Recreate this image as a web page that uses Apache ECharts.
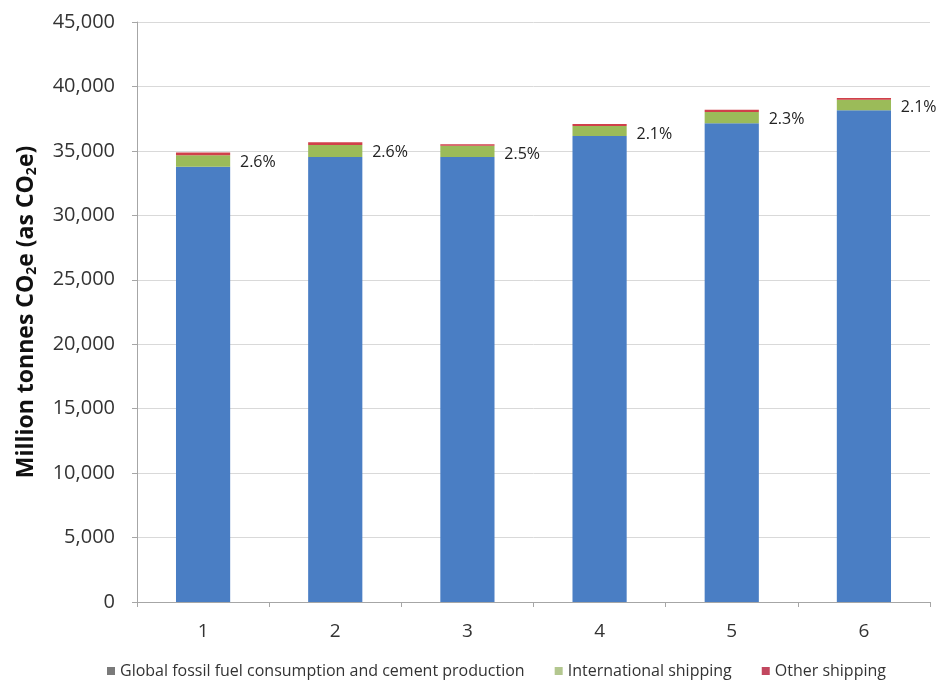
<!DOCTYPE html>
<html><head><meta charset="utf-8">
<script src="https://cdn.jsdelivr.net/npm/echarts@6/dist/echarts.min.js"></script>
<style>html,body{margin:0;padding:0;background:#fff}#c{width:943px;height:688px}</style>
</head><body><div id="c"></div>
<script>
const categories = ['1','2','3','4','5','6'];
const fossil = [33760, 34520, 34521, 36150, 37151, 38152];
const intlShipping = [903, 940, 873, 790, 871, 816];
const otherShipping = [218, 217, 125, 145, 174, 145];
const shareLabels = ['2.6%','2.6%','2.5%','2.1%','2.3%','2.1%'];
const yTicks = [0, 5000, 10000, 15000, 20000, 25000, 30000, 35000, 40000, 45000];

const font = '"Open Sans", "Liberation Sans", sans-serif';
const chart = echarts.init(document.getElementById('c'));
chart.setOption({
  animation: false,
  textStyle: {fontFamily: font},
  grid: {left: 137, right: 13, top: 22, bottom: 86},
  legend: {
    bottom: 4, left: 102, itemWidth: 8, itemHeight: 8, itemGap: 30,
    textStyle: {fontSize: 16, color: '#333', fontFamily: font},
    data: [
      {name: 'Global fossil fuel consumption and cement production', icon: 'rect', itemStyle: {color: '#7a7a7a'}},
      {name: 'International shipping', icon: 'rect', itemStyle: {color: '#b3c78f'}},
      {name: 'Other shipping', icon: 'rect', itemStyle: {color: '#c2475f'}}
    ]
  },
  xAxis: {
    type: 'category', data: categories,
    axisLine: {lineStyle: {color: '#a6a6a6'}},
    axisTick: {show: true, length: 5, lineStyle: {color: '#a6a6a6'}},
    axisLabel: {fontSize: 19, color: '#333', margin: 20, fontFamily: font}
  },
  yAxis: {
    type: 'value', min: yTicks[0], max: yTicks[yTicks.length-1], interval: 5000,
    name: '{b|Million tonnes CO}{s|2}{b|e (as CO}{s|2}{b|e)}',
    nameLocation: 'middle', nameRotate: 90, nameGap: 98,
    nameTextStyle: {
      rich: {
        b: {fontSize: 23, fontWeight: 'bold', color: '#111', fontFamily: font},
        s: {fontSize: 14, fontWeight: 'bold', color: '#111', fontFamily: font, padding: [12,0,0,0]}
      }
    },
    axisLine: {show: true, lineStyle: {color: '#a6a6a6'}},
    axisTick: {show: true, length: 5, lineStyle: {color: '#a6a6a6'}},
    splitLine: {lineStyle: {color: '#d9d9d9'}},
    axisLabel: {
      fontSize: 20, color: '#333', margin: 22, fontFamily: font,
      formatter: v => v.toLocaleString('en-US')
    }
  },
  series: [
    {name: 'Global fossil fuel consumption and cement production', type: 'bar', stack: 't',
     data: fossil, barWidth: '41%', itemStyle: {color: '#4a7ec4'}},
    {name: 'International shipping', type: 'bar', stack: 't',
     data: intlShipping, itemStyle: {color: '#9bbb59'}},
    {name: 'Other shipping', type: 'bar', stack: 't',
     data: otherShipping, itemStyle: {color: '#d0404a'},
     label: {show: true, position: [64, 10], align: 'left', verticalAlign: 'middle',
       fontSize: 16, color: '#222', fontFamily: font,
       formatter: p => shareLabels[p.dataIndex]}}
  ]
});
</script></body></html>
